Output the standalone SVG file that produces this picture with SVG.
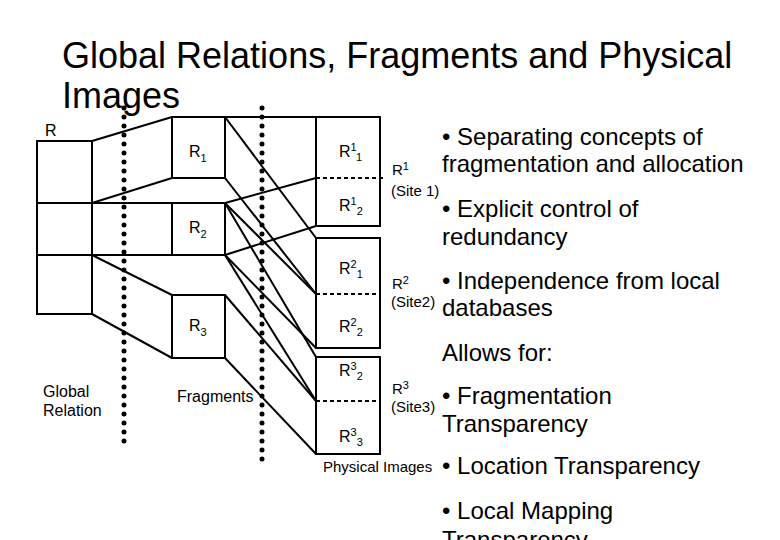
<svg xmlns="http://www.w3.org/2000/svg" width="780" height="540" viewBox="0 0 780 540">
<style>
text{font-family:"Liberation Sans",Arial,sans-serif;fill:#000}
.t{font-size:36px}
.b{font-size:24px}
.l{font-size:16px}
.s{font-size:15px}
.sm{font-size:11px}
.box{fill:none;stroke:#000;stroke-width:2}
.ln{stroke:#000;stroke-width:2;fill:none}
.dash{stroke:#000;stroke-width:2;stroke-dasharray:4 3}
.dot{stroke:#000;stroke-width:5;stroke-linecap:round;stroke-dasharray:0 9}
</style>
<rect width="780" height="540" fill="#fff"/>
<text class="t" x="62" y="68">Global Relations, Fragments and Physical</text>
<text class="t" x="62" y="108">Images</text>

<g id="connectors">
<line class="ln" x1="92" y1="141" x2="172" y2="117"/>
<line class="ln" x1="92" y1="203" x2="172" y2="178"/>
<line class="ln" x1="92" y1="203" x2="172" y2="203"/>
<line class="ln" x1="92" y1="255" x2="172" y2="255"/>
<line class="ln" x1="92" y1="255" x2="172" y2="295"/>
<line class="ln" x1="92" y1="314" x2="172" y2="358"/>
<line class="ln" x1="225" y1="117" x2="316" y2="117"/>
<line class="ln" x1="225" y1="117" x2="316" y2="238"/>
<line class="ln" x1="225" y1="178" x2="316" y2="294"/>
<line class="ln" x1="225" y1="203" x2="316" y2="178"/>
<line class="ln" x1="225" y1="203" x2="316" y2="294"/>
<line class="ln" x1="225" y1="203" x2="316" y2="357"/>
<line class="ln" x1="225" y1="255" x2="316" y2="226"/>
<line class="ln" x1="225" y1="255" x2="316" y2="348"/>
<line class="ln" x1="225" y1="255" x2="316" y2="401"/>
<line class="ln" x1="225" y1="295" x2="316" y2="401"/>
<line class="ln" x1="225" y1="358" x2="316" y2="454"/>
</g>

<line class="dot" x1="124" y1="108" x2="124" y2="442"/>
<line class="dot" x1="262" y1="108" x2="262" y2="460"/>

<g id="global">
<rect class="box" x="37" y="141" width="55" height="173"/>
<line class="ln" x1="37" y1="203" x2="92" y2="203"/>
<line class="ln" x1="37" y1="255" x2="92" y2="255"/>
<text class="l" x="45" y="136">R</text>
<text class="l" x="43" y="397">Global</text>
<text class="l" x="43" y="416">Relation</text>
</g>

<g id="frag-r1">
<rect class="box" x="172" y="117" width="53" height="61"/>
<text class="l" x="189" y="157">R<tspan class="sm" dy="5">1</tspan></text>
</g>
<g id="frag-r2">
<rect class="box" x="172" y="203" width="53" height="52"/>
<text class="l" x="189" y="233">R<tspan class="sm" dy="5">2</tspan></text>
</g>
<g id="frag-r3">
<rect class="box" x="172" y="295" width="53" height="63"/>
<text class="l" x="189" y="331">R<tspan class="sm" dy="5">3</tspan></text>
</g>
<text class="l" x="177" y="402">Fragments</text>

<g id="site1">
<rect class="box" x="316" y="117" width="64" height="109"/>
<line class="dash" x1="316" y1="178" x2="384" y2="178"/>
<text class="l" x="339" y="157">R<tspan class="sm" dy="-6">1</tspan><tspan class="sm" dy="10">1</tspan></text>
<text class="l" x="339" y="211">R<tspan class="sm" dy="-6">1</tspan><tspan class="sm" dy="10">2</tspan></text>
<text class="s" x="392" y="175">R<tspan class="sm" dy="-5">1</tspan></text>
<text class="s" x="391" y="196">(Site 1)</text>
</g>
<g id="site2">
<rect class="box" x="316" y="238" width="64" height="110"/>
<line class="dash" x1="316" y1="294" x2="380" y2="294"/>
<text class="l" x="339" y="274">R<tspan class="sm" dy="-6">2</tspan><tspan class="sm" dy="10">1</tspan></text>
<text class="l" x="339" y="332">R<tspan class="sm" dy="-6">2</tspan><tspan class="sm" dy="10">2</tspan></text>
<text class="s" x="392" y="289">R<tspan class="sm" dy="-5">2</tspan></text>
<text class="s" x="391" y="307">(Site2)</text>
</g>
<g id="site3">
<rect class="box" x="316" y="357" width="64" height="97"/>
<line class="dash" x1="316" y1="401" x2="380" y2="401"/>
<text class="l" x="339" y="376">R<tspan class="sm" dy="-6">3</tspan><tspan class="sm" dy="10">2</tspan></text>
<text class="l" x="339" y="442">R<tspan class="sm" dy="-6">3</tspan><tspan class="sm" dy="10">3</tspan></text>
<text class="s" x="392" y="394">R<tspan class="sm" dy="-5">3</tspan></text>
<text class="s" x="391" y="412">(Site3)</text>
</g>
<text class="s" x="323" y="472">Physical Images</text>

<g id="bullets">
<text class="b" x="442" y="145">• Separating concepts of</text>
<text class="b" x="442" y="172">fragmentation and allocation</text>
<text class="b" x="442" y="217">• Explicit control of</text>
<text class="b" x="442" y="245">redundancy</text>
<text class="b" x="442" y="289">• Independence from local</text>
<text class="b" x="442" y="316">databases</text>
<text class="b" x="442" y="361">Allows for:</text>
<text class="b" x="442" y="404">• Fragmentation</text>
<text class="b" x="442" y="432">Transparency</text>
<text class="b" x="442" y="474">• Location Transparency</text>
<text class="b" x="442" y="519">• Local Mapping</text>
<text class="b" x="442" y="548">Transparency</text>
</g>
</svg>
